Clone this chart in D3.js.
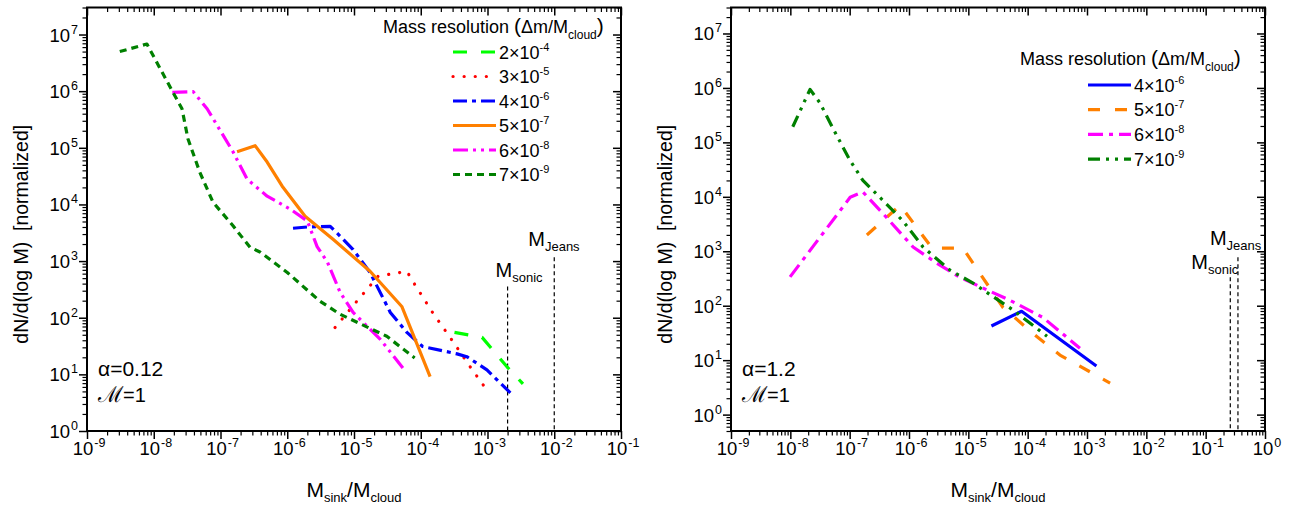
<!DOCTYPE html>
<html>
<head>
<meta charset="utf-8">
<script src="https://cdn.jsdelivr.net/npm/d3@7"></script>
<style>
  body { margin: 0; background: #fff; }
  svg { display: block; font-family: "Liberation Sans", Arial, sans-serif; }
</style>
</head>
<body>
<svg id="chart" width="1290" height="507"></svg>
<script>
// ---- values ----

// left panel: alpha = 0.12
const leftMantissa = ['2', '3', '4', '5', '6', '7'];
const leftExponent = ['-4', '-5', '-6', '-7', '-8', '-9'];

const leftX2e4 = [3.2e-4, 8.3e-4, 1.96e-3, 3.4e-3];
const leftY2e4 = [55, 45, 13.6, 6.8];

const leftX3e5 = [5.2e-6, 1.1e-5, 2.3e-5, 6.2e-5, 8.1e-5, 1.5e-4, 2.9e-4, 5.5e-4, 1.05e-3];
const leftY3e5 = [67, 195, 540, 660, 390, 124, 41, 13.6, 4.7];

const leftX4e6 = [1.22e-6, 2e-6, 4.4e-6, 6.2e-6, 9.7e-6, 1.74e-5, 3.5e-5, 6.2e-5, 1.07e-4, 3.5e-4, 4.9e-4, 9.8e-4, 2.2e-3];
const leftY4e6 = [3.8e3, 4e3, 4.1e3, 2.75e3, 1.6e3, 630, 124, 55, 31, 23, 20.5, 12, 4.7];

const leftX5e7 = [1.77e-7, 3.3e-7, 5e-7, 8.4e-7, 1.85e-6, 4.9e-6, 1.74e-5, 5.2e-5, 1.38e-4];
const leftY5e7 = [8.5e4, 1.09e5, 5.6e4, 2.1e4, 6.2e3, 2.4e3, 660, 158, 9.1];

const leftX6e8 = [1.9e-8, 3.9e-8, 6.3e-8, 1.54e-7, 2.5e-7, 5e-7, 1.1e-6, 2e-6, 2.8e-6, 4e-6, 6.2e-6, 9.7e-6, 2.5e-5, 5.4e-5];
const leftY6e8 = [9.5e5, 9.8e5, 4.9e5, 8.5e4, 2.8e4, 1.4e4, 8.3e3, 5.1e3, 1.8e3, 960, 280, 124, 41, 13];

const leftX7e9 = [3.1e-9, 7.9e-9, 1.9e-8, 2.65e-8, 3.25e-8, 4.9e-8, 7.7e-8, 1.54e-7, 2.77e-7, 3.9e-7, 1e-6, 3.1e-6, 6.2e-6, 1.55e-5, 3.1e-5, 8.1e-5];
const leftY7e9 = [5e6, 6.8e6, 1.0e6, 4.9e5, 1.45e5, 3.7e4, 1.1e4, 4.2e3, 1.75e3, 1.45e3, 630, 195, 115, 69, 47, 19.5];

const leftAlpha = '0.12';
const leftSonic = 2e-3;
const leftJeans = 1e-2;
const leftSonicTop = 357;
const leftJeansTop = 1170;

// right panel: alpha = 1.2
const rightMantissa = ['4', '5', '6', '7'];
const rightExponent = ['-6', '-7', '-8', '-9'];

const rightX4e6 = [2.45e-5, 7.9e-5, 1.44e-3];
const rightY4e6 = [42.5, 79, 7.8];

const rightX5e7 = [1.95e-7, 7.1e-7, 2.45e-6, 8.1e-6, 3.8e-5, 1.23e-4, 3.5e-4, 2.45e-3];
const rightY5e7 = [1.99e3, 7e3, 1.14e3, 1.14e3, 94, 31, 12.4, 3.8];

const rightX6e8 = [9.9e-9, 1.02e-7, 1.67e-7, 3.6e-7, 1.17e-6, 2.95e-6, 7.2e-6, 1.78e-5, 5e-5, 1.8e-4, 7.6e-4];
const rightY6e8 = [339, 9.8e3, 1.23e4, 5e3, 1.2e3, 603, 333, 210, 126, 61, 16.6];

const rightX7e9 = [1.1e-8, 2.15e-8, 3.16e-8, 5.2e-8, 1.01e-7, 1.67e-7, 3.6e-7, 7.9e-7, 1.73e-6, 4.9e-6, 1.2e-5, 5.7e-5, 2.12e-4];
const rightY7e9 = [1.94e5, 9.4e5, 5.3e5, 1.83e5, 4.7e4, 2e4, 8.7e3, 3.6e3, 1.19e3, 450, 260, 83, 27.5];

const rightAlpha = '1.2';
const rightSonic = 0.26;
const rightJeans = 0.35;
const rightSonicTop = 333;
const rightJeansTop = 780;

// axis ranges
const leftXDomain = [1e-9, 1e-1];
const leftYDomain = [1, 3e7];
const rightXDomain = [1e-9, 1];
const rightYDomain = [0.5, 3e7];

// ---- line styles (same order as the series) ----
const leftStyles = [
    { color: '#00ff00', dash: '14,14', cap: 'butt' },
    { color: '#ff0000', dash: '0.1,11', cap: 'round' },
    { color: '#0000ff', dash: '14,5,4,5', cap: 'butt' },
    { color: '#ff8000', dash: null, cap: 'butt' },
    { color: '#ff00ff', dash: '15,5,3,5,3,5', cap: 'butt' },
    { color: '#008000', dash: '7,5', cap: 'butt' }
];
const rightStyles = [
    { color: '#0000ff', dash: null, cap: 'butt' },
    { color: '#ff8000', dash: '12,15', cap: 'butt' },
    { color: '#ff00ff', dash: '15,6,4,6', cap: 'butt' },
    { color: '#008000', dash: '12,6,3,6,3,6', cap: 'butt' }
];

const leftSeries = [
    [leftX2e4, leftY2e4], [leftX3e5, leftY3e5], [leftX4e6, leftY4e6],
    [leftX5e7, leftY5e7], [leftX6e8, leftY6e8], [leftX7e9, leftY7e9]
];
const rightSeries = [
    [rightX4e6, rightY4e6], [rightX5e7, rightY5e7],
    [rightX6e8, rightY6e8], [rightX7e9, rightY7e9]
];

const svg = d3.select('#chart');

// writes "10" with a raised exponent into a text selection
function powLabel(sel, d) {
    const e = Math.round(Math.log10(d));
    sel.text('');
    sel.append('tspan').text('10');
    sel.append('tspan').attr('dx', 1).attr('dy', -8).attr('font-size', 12.5).text(e);
}

function logTicks(domain) {
    const lo = Math.floor(Math.log10(domain[0]) + 1e-9);
    const hi = Math.ceil(Math.log10(domain[1]) - 1e-9);
    const major = [];
    const minor = [];
    for (let e = lo; e <= hi; e++) {
        const p = Math.pow(10, e);
        if (p >= domain[0] * 0.999 && p <= domain[1] * 1.001) major.push(p);
        for (let k = 2; k <= 9; k++) {
            const v = k * p;
            if (v >= domain[0] * 0.999 && v <= domain[1] * 1.001) minor.push(v);
        }
    }
    return { major, minor };
}

function drawPanel(opt) {
    const g = svg.append('g');
    const x = d3.scaleLog().domain(opt.xDomain).range([opt.left, opt.right]);
    const y = d3.scaleLog().domain(opt.yDomain).range([opt.bottom, opt.top]);
    const xt = logTicks(opt.xDomain);
    const yt = logTicks(opt.yDomain);

    // ticks: bottom/left outward, top/right inward
    const axes = [
        [d3.axisBottom(x), `translate(0,${opt.bottom})`, xt, 1],
        [d3.axisTop(x), `translate(0,${opt.top})`, xt, -1],
        [d3.axisLeft(y), `translate(${opt.left},0)`, yt, 1],
        [d3.axisRight(y), `translate(${opt.right},0)`, yt, -1]
    ];
    axes.forEach(([ax, tr, t, dir]) => {
        g.append('g').attr('transform', tr)
            .call(ax.tickValues(t.major).tickSize(8 * dir).tickFormat(''))
            .call(s => s.select('.domain').remove())
            .selectAll('line').attr('stroke', '#000').attr('stroke-width', 1.5);
        g.append('g').attr('transform', tr)
            .call(ax.tickValues(t.minor).tickSize(4.5 * dir).tickFormat(''))
            .call(s => s.select('.domain').remove())
            .selectAll('line').attr('stroke', '#000').attr('stroke-width', 1.2);
    });

    // tick labels
    g.selectAll('text.xlab').data(xt.major).join('text')
        .attr('class', 'xlab')
        .attr('x', d => x(d) + 2)
        .attr('y', opt.bottom + 24)
        .attr('text-anchor', 'middle')
        .attr('font-size', 18.5)
        .each(function (d) { powLabel(d3.select(this), d); });

    g.selectAll('text.ylab').data(yt.major).join('text')
        .attr('class', 'ylab')
        .attr('x', opt.left - 9)
        .attr('y', d => y(d) + 7)
        .attr('text-anchor', 'end')
        .attr('font-size', 18.5)
        .each(function (d) { powLabel(d3.select(this), d); });

    // frame
    g.append('rect')
        .attr('x', opt.left).attr('y', opt.top)
        .attr('width', opt.right - opt.left).attr('height', opt.bottom - opt.top)
        .attr('fill', 'none').attr('stroke', '#000').attr('stroke-width', 2);

    // axis titles
    g.append('text')
        .attr('transform', `translate(${opt.left - 59},${(opt.top + opt.bottom) / 2 + 15}) rotate(-90)`)
        .attr('text-anchor', 'middle')
        .attr('font-size', 19.5)
        .style('white-space', 'pre')
        .text('dN/d(log M)  [normalized]');

    const xTitle = g.append('text')
        .attr('x', (opt.left + opt.right) / 2)
        .attr('y', opt.bottom + 66)
        .attr('text-anchor', 'middle')
        .attr('font-size', 21);
    xTitle.append('tspan').text('M');
    xTitle.append('tspan').attr('dy', 5).attr('font-size', 13).text('sink');
    xTitle.append('tspan').attr('dy', -5).text('/M');
    xTitle.append('tspan').attr('dy', 5).attr('font-size', 13).text('cloud');

    // mass lines
    const line = d3.line()
        .x(d => x(d[0]))
        .y(d => y(d[1]));

    const clipId = 'clip' + opt.left;
    g.append('clipPath').attr('id', clipId)
        .append('rect')
        .attr('x', opt.left).attr('y', opt.top)
        .attr('width', opt.right - opt.left).attr('height', opt.bottom - opt.top);

    const marks = [
        [opt.sonic, opt.sonicTop, 'sonic', opt.sonicDx, opt.sonicDy],
        [opt.jeans, opt.jeansTop, 'Jeans', opt.jeansDx, opt.jeansDy]
    ];
    marks.forEach(([mx, top, name, dx, dy]) => {
        g.append('line')
            .attr('x1', x(mx)).attr('x2', x(mx))
            .attr('y1', y(top)).attr('y2', opt.bottom)
            .attr('stroke', '#000').attr('stroke-width', 1.2)
            .attr('stroke-dasharray', '4,3');
        const t = g.append('text')
            .attr('x', x(mx) + dx)
            .attr('y', y(top) + dy)
            .attr('font-size', 20);
        t.append('tspan').text('M');
        t.append('tspan').attr('dy', 5).attr('font-size', 13).text(name);
    });

    // data series
    const lines = g.append('g').attr('clip-path', `url(#${clipId})`);
    opt.series.forEach(([xs, ys], i) => {
        const st = opt.styles[i];
        lines.append('path')
            .datum(xs.map((v, j) => [v, ys[j]]))
            .attr('d', line)
            .attr('fill', 'none')
            .attr('stroke', st.color)
            .attr('stroke-width', 3.2)
            .attr('stroke-linecap', st.cap)
            .attr('stroke-linejoin', 'round')
            .attr('stroke-dasharray', st.dash);
    });

    // legend
    const lg = g.append('g');
    const title = lg.append('text')
        .attr('x', opt.legX).attr('y', opt.legY)
        .attr('font-size', 18);
    title.append('tspan').text('Mass resolution ');
    title.append('tspan').attr('font-size', 21).text('(');
    title.append('tspan').text('Δm/M');
    title.append('tspan').attr('dy', 6).attr('font-size', 12).text('cloud');
    title.append('tspan').attr('dy', -6).attr('font-size', 21).text(')');

    opt.mantissa.forEach((m, i) => {
        const st = opt.styles[i];
        const ly = opt.rowY + i * opt.rowGap;
        lg.append('line')
            .attr('x1', opt.sampleX).attr('x2', opt.sampleX + 43)
            .attr('y1', ly).attr('y2', ly)
            .attr('stroke', st.color)
            .attr('stroke-width', 3.2)
            .attr('stroke-linecap', st.cap)
            .attr('stroke-dasharray', st.dash);
        const t = lg.append('text')
            .attr('x', opt.sampleX + 46).attr('y', ly + 6.5)
            .attr('font-size', 18);
        t.append('tspan').text(m + '×10');
        t.append('tspan').attr('dy', -8).attr('font-size', 11).text(opt.exponent[i]);
    });

    // parameters
    g.append('text')
        .attr('x', opt.left + 11).attr('y', opt.bottom - 55)
        .attr('font-size', 21)
        .text('α=' + opt.alpha);
    const mach = g.append('text')
        .attr('x', opt.left + 11).attr('y', opt.bottom - 29)
        .attr('font-size', 20);
    mach.append('tspan').attr('font-size', 22).text('ℳ');
    mach.append('tspan').text('=1');
}

drawPanel({
    left: 87, right: 621, top: 7.5, bottom: 431,
    xDomain: leftXDomain, yDomain: leftYDomain,
    series: leftSeries, styles: leftStyles,
    mantissa: leftMantissa, exponent: leftExponent,
    legX: 383, legY: 33, sampleX: 453, rowY: 52, rowGap: 24.5,
    alpha: leftAlpha,
    sonic: leftSonic, sonicTop: leftSonicTop, sonicDx: -12, sonicDy: -9,
    jeans: leftJeans, jeansTop: leftJeansTop, jeansDx: -26, jeansDy: -11
});

drawPanel({
    left: 731, right: 1265, top: 7.5, bottom: 431,
    xDomain: rightXDomain, yDomain: rightYDomain,
    series: rightSeries, styles: rightStyles,
    mantissa: rightMantissa, exponent: rightExponent,
    legX: 1020, legY: 65, sampleX: 1088, rowY: 85, rowGap: 24.7,
    alpha: rightAlpha,
    sonic: rightSonic, sonicTop: rightSonicTop, sonicDx: -39, sonicDy: -8,
    jeans: rightJeans, jeansTop: rightJeansTop, jeansDx: -28, jeansDy: -12
});
</script>
</body>
</html>
